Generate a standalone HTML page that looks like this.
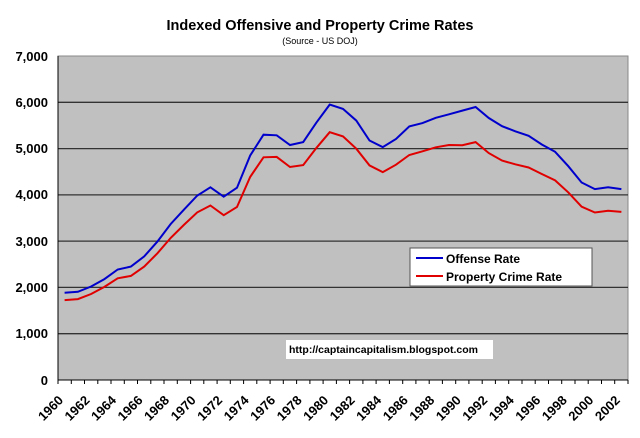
<!DOCTYPE html>
<html><head><style>body{margin:0;background:#fff}svg{display:block;font-family:"Liberation Sans",Arial,sans-serif}</style></head><body>
<svg width="640" height="438" xmlns="http://www.w3.org/2000/svg">
<text x="320" y="30" text-anchor="middle" font-size="14.5" font-weight="bold">Indexed Offensive and Property Crime Rates</text>
<text x="320" y="44" text-anchor="middle" font-size="9">(Source - US DOJ)</text>
<rect x="58" y="56" width="570" height="324" fill="#c0c0c0" stroke="#888" stroke-width="1"/>
<g stroke="#333" stroke-width="1.3">
<line x1="58" y1="102.3" x2="628" y2="102.3"/><line x1="58" y1="148.6" x2="628" y2="148.6"/><line x1="58" y1="194.9" x2="628" y2="194.9"/><line x1="58" y1="241.1" x2="628" y2="241.1"/><line x1="58" y1="287.4" x2="628" y2="287.4"/><line x1="58" y1="333.7" x2="628" y2="333.7"/>
</g>
<g stroke="#000" stroke-width="1"><line x1="58" y1="380" x2="628" y2="380"/><line x1="58" y1="56" x2="58" y2="380"/></g>
<g font-size="13" font-weight="bold" text-anchor="end">
<text x="48" y="61">7,000</text><text x="48" y="107">6,000</text><text x="48" y="153">5,000</text><text x="48" y="199">4,000</text><text x="48" y="246">3,000</text><text x="48" y="292">2,000</text><text x="48" y="338">1,000</text><text x="48" y="385">0</text>
</g>
<path stroke="#000" stroke-width="1" fill="none" d="M58 380v4M71.3 380v4M84.5 380v4M97.8 380v4M111 380v4M124.3 380v4M137.5 380v4M150.8 380v4M164 380v4M177.3 380v4M190.6 380v4M203.8 380v4M217.1 380v4M230.3 380v4M243.6 380v4M256.8 380v4M270.1 380v4M283.3 380v4M296.6 380v4M309.9 380v4M323.1 380v4M336.4 380v4M349.6 380v4M362.9 380v4M376.1 380v4M389.4 380v4M402.7 380v4M415.9 380v4M429.2 380v4M442.4 380v4M455.7 380v4M468.9 380v4M482.2 380v4M495.4 380v4M508.7 380v4M522 380v4M535.2 380v4M548.5 380v4M561.7 380v4M575 380v4M588.2 380v4M601.5 380v4M614.7 380v4M628 380v4"/>
<g font-size="13" font-weight="bold" text-anchor="end">
<text transform="translate(64,401) rotate(-45)">1960</text>
<text transform="translate(90.5,401) rotate(-45)">1962</text>
<text transform="translate(117,401) rotate(-45)">1964</text>
<text transform="translate(143.5,401) rotate(-45)">1966</text>
<text transform="translate(170,401) rotate(-45)">1968</text>
<text transform="translate(196.6,401) rotate(-45)">1970</text>
<text transform="translate(223.1,401) rotate(-45)">1972</text>
<text transform="translate(249.6,401) rotate(-45)">1974</text>
<text transform="translate(276.1,401) rotate(-45)">1976</text>
<text transform="translate(302.6,401) rotate(-45)">1978</text>
<text transform="translate(329.1,401) rotate(-45)">1980</text>
<text transform="translate(355.6,401) rotate(-45)">1982</text>
<text transform="translate(382.1,401) rotate(-45)">1984</text>
<text transform="translate(408.7,401) rotate(-45)">1986</text>
<text transform="translate(435.2,401) rotate(-45)">1988</text>
<text transform="translate(461.7,401) rotate(-45)">1990</text>
<text transform="translate(488.2,401) rotate(-45)">1992</text>
<text transform="translate(514.7,401) rotate(-45)">1994</text>
<text transform="translate(541.2,401) rotate(-45)">1996</text>
<text transform="translate(567.7,401) rotate(-45)">1998</text>
<text transform="translate(594.2,401) rotate(-45)">2000</text>
<text transform="translate(620.8,401) rotate(-45)">2002</text>
</g>
<polyline id="off" fill="none" stroke="#0000cc" stroke-width="2"/>
<polyline id="prop" fill="none" stroke="#e00000" stroke-width="2"/>
<rect x="410" y="248" width="182" height="38" fill="#fff" stroke="#555"/>
<line x1="416" y1="258" x2="443" y2="258" stroke="#0000cc" stroke-width="2"/>
<line x1="416" y1="276" x2="443" y2="276" stroke="#e00000" stroke-width="2"/>
<text x="446" y="263" font-size="12" font-weight="bold">Offense Rate</text>
<text x="446" y="281" font-size="12" font-weight="bold">Property Crime Rate</text>
<rect x="286" y="340" width="207" height="19" fill="#fff"/>
<text x="289" y="353" font-size="10.5" font-weight="bold">http://captaincapitalism.blogspot.com</text>
<script>
var o=[1887,1906,2020,2180,2388,2449,2670,2990,3370,3680,3985,4164,3961,4154,4850,5299,5287,5078,5140,5565,5950,5858,5604,5175,5031,5207,5480,5550,5664,5741,5820,5898,5660,5484,5374,5276,5087,4930,4620,4266,4125,4163,4125];
var p=[1726,1748,1858,2012,2197,2249,2450,2737,3071,3351,3621,3769,3561,3737,4389,4811,4820,4601,4643,5017,5353,5264,4998,4637,4492,4651,4862,4941,5027,5077,5073,5140,4903,4740,4660,4591,4451,4312,4053,3744,3618,3658,3631];
var w=570/43;function pts(a){return a.map(function(v,i){return (58+w*(i+0.5)).toFixed(1)+","+(380-v*324/7000).toFixed(1)}).join(" ")}
document.getElementById("off").setAttribute("points",pts(o));
document.getElementById("prop").setAttribute("points",pts(p));
</script>
</svg></body></html>
